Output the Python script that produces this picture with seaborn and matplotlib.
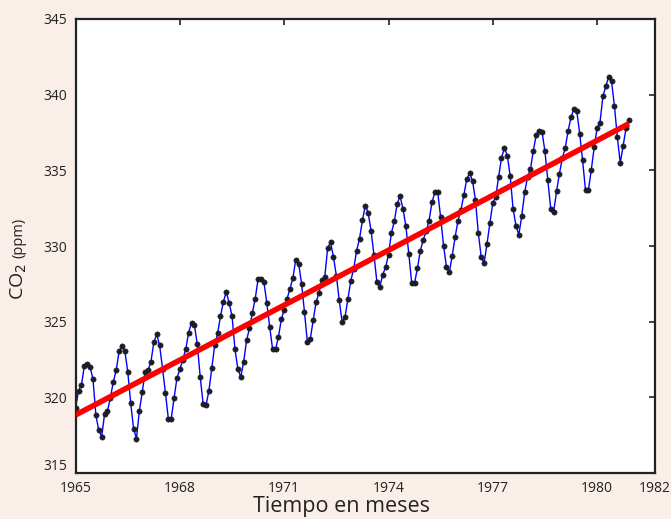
import numpy as np
import pandas as pd
import matplotlib
matplotlib.use("Agg")
import matplotlib.pyplot as plt
import matplotlib.transforms as mtransforms
import seaborn as sns

# Monthly CO2 readings (ppm), Jan 1965 - Dec 1980
co2_1965 = [319.32, 320.42, 320.81, 322.07, 322.22, 322.00, 321.19, 318.81, 317.82, 317.40, 318.92, 319.10]
co2_1966 = [319.98, 321.01, 321.78, 323.05, 323.38, 323.05, 321.69, 319.65, 317.93, 317.28, 319.10, 320.35]
co2_1967 = [321.67, 321.80, 322.35, 323.65, 324.16, 323.43, 321.90, 320.30, 318.60, 318.60, 319.98, 321.30]
co2_1968 = [321.85, 322.50, 323.17, 324.27, 324.93, 324.80, 323.50, 321.37, 319.58, 319.47, 320.42, 321.93]
co2_1969 = [323.43, 324.22, 325.36, 326.31, 326.97, 326.24, 325.36, 323.17, 321.89, 321.34, 322.33, 323.76]
co2_1970 = [324.55, 325.58, 326.53, 327.83, 327.83, 327.60, 326.24, 324.64, 323.17, 323.17, 323.98, 325.15]
co2_1971 = [325.80, 326.53, 327.17, 327.89, 329.10, 328.82, 327.50, 325.63, 323.65, 323.87, 325.10, 326.29]
co2_1972 = [326.90, 327.78, 327.96, 329.87, 330.25, 329.26, 328.05, 326.40, 324.97, 325.32, 326.53, 327.72]
co2_1973 = [328.51, 329.70, 330.49, 331.70, 332.67, 332.18, 330.97, 329.39, 327.61, 327.30, 328.10, 328.60]
co2_1974 = [329.43, 330.86, 331.63, 332.80, 333.28, 332.47, 331.30, 329.50, 327.56, 327.56, 328.55, 329.70]
co2_1975 = [330.42, 330.97, 331.68, 332.88, 333.54, 333.54, 331.90, 330.03, 328.62, 328.27, 329.37, 330.60]
co2_1976 = [331.68, 332.40, 333.35, 334.42, 334.82, 334.31, 333.06, 330.86, 329.28, 328.88, 330.14, 331.52]
co2_1977 = [332.84, 333.24, 334.56, 335.81, 336.47, 335.98, 334.64, 332.45, 331.35, 330.75, 332.00, 333.54]
co2_1978 = [334.56, 335.08, 336.31, 337.35, 337.61, 337.55, 336.25, 334.38, 332.45, 332.23, 333.61, 334.78]
co2_1979 = [335.81, 336.47, 337.61, 338.51, 339.06, 338.89, 337.43, 335.65, 333.68, 333.68, 335.04, 336.51]
co2_1980 = [337.79, 338.16, 339.88, 340.54, 341.20, 340.87, 339.22, 337.17, 335.48, 336.62, 337.79, 338.34]

x_tick_months = [0, 36, 72, 108, 144, 180, 200]
x_tick_labels = ["1965", "1968", "1971", "1974", "1977", "1980", "1982"]
y_ticks = [315, 320, 325, 330, 335, 340, 345]

co2 = np.concatenate([co2_1965, co2_1966, co2_1967, co2_1968, co2_1969, co2_1970,
                      co2_1971, co2_1972, co2_1973, co2_1974, co2_1975, co2_1976,
                      co2_1977, co2_1978, co2_1979, co2_1980])
months = np.arange(len(co2))
df = pd.DataFrame({"mes": months, "co2": co2})

sns.set_theme(style="white")
plt.rcParams["font.family"] = ["Open Sans", "DejaVu Sans"]

bg = "#f9eee8"
ink = "#222222"
fig = plt.figure(figsize=(6.71, 5.19), dpi=100, facecolor=bg)
ax = fig.add_axes([0.1127, 0.0886, 0.8635, 0.8748])
ax.set_facecolor("white")

sns.lineplot(data=df, x="mes", y="co2", ax=ax, color="#0000ff", lw=1.0,
             marker="o", markersize=3.8, markerfacecolor="#1c1c26",
             markeredgecolor="#1c1c26", markeredgewidth=0.4, zorder=2)
sns.regplot(data=df, x="mes", y="co2", ax=ax, scatter=False, ci=None,
            color="#ff0000", line_kws={"lw": 4.0, "zorder": 3, "solid_capstyle": "butt"})

ax.set_xlim(0, 200)
ax.set_ylim(315, 345)
ax.set_xticks(x_tick_months)
ax.set_xticklabels(x_tick_labels)
ax.set_yticks(y_ticks)
ax.set_yticklabels([str(v) for v in y_ticks])

for s in ax.spines.values():
    s.set_visible(True)
    s.set_color(ink)
    s.set_linewidth(1.6)

ax.tick_params(axis="both", direction="in", length=4, width=1.2, color=ink,
               top=True, right=True, labelsize=10, labelcolor=ink, pad=6)

# nudge the 315 label up slightly like the reference
lbl = ax.get_yticklabels()[0]
lbl.set_transform(lbl.get_transform() + mtransforms.ScaledTranslation(0, 6 / 72, fig.dpi_scale_trans))

ax.set_xlabel("Tiempo en meses", fontsize=15.5, color=ink)
ax.xaxis.set_label_coords((341 - 75.6) / 579.4, -0.05)
ax.set_ylabel("")

fig.text(19 / 671, 1 - 282 / 519, "CO$_2$", rotation=90, fontsize=14, color=ink,
         ha="center", va="center")
fig.text(19 / 671, 1 - 238 / 519, "(ppm)", rotation=90, fontsize=10.5, color=ink,
         ha="center", va="center")

fig.savefig("out.png", dpi=100, facecolor=bg)
